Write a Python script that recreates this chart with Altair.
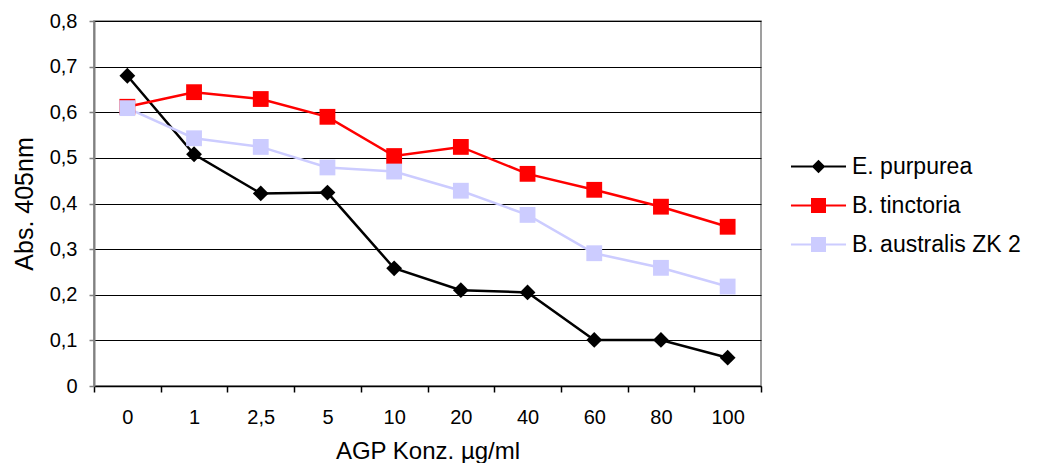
import altair as alt
import pandas as pd

concentrations = ["0", "1", "2,5", "5", "10", "20", "40", "60", "80", "100"]
series_names = ["E. purpurea", "B. tinctoria", "B. australis ZK 2"]
e_purpurea = [0.680, 0.508, 0.422, 0.424, 0.258, 0.210, 0.205, 0.101, 0.101, 0.062]
b_tinctoria = [0.612, 0.644, 0.629, 0.590, 0.504, 0.524, 0.465, 0.430, 0.393, 0.349]
b_australis = [0.609, 0.543, 0.524, 0.479, 0.470, 0.428, 0.375, 0.291, 0.259, 0.218]
y_ticks = [0, 0.1, 0.2, 0.3, 0.4, 0.5, 0.6, 0.7, 0.8]
colors = ["#000000", "#FF0000", "#CCCCFF"]

rows = []
for name, vals in zip(series_names, [e_purpurea, b_tinctoria, b_australis]):
    for c, v in zip(concentrations, vals):
        rows.append({"conc": c, "series": name, "value": v})
df = pd.DataFrame(rows)

FONT = "Liberation Sans"

x_enc = alt.X(
    "conc:N",
    sort=concentrations,
    scale=alt.Scale(type="band", paddingInner=0, paddingOuter=0),
    axis=alt.Axis(
        title="AGP Konz. µg/ml",
        labelAngle=0,
        tickBand="extent",
        grid=False,
        domainColor="#000000",
        domainWidth=1.5,
        tickColor="#000000",
        tickWidth=1.5,
        tickSize=6,
        labelFontSize=20,
        labelPadding=15,
        titleFontSize=24,
        titleFontWeight="normal",
        titlePadding=12,
        labelColor="#000000",
        titleColor="#000000",
    ),
)
y_enc = alt.Y(
    "value:Q",
    scale=alt.Scale(domain=[0, 0.8], nice=False, zero=True),
    axis=alt.Axis(
        title="Abs. 405nm",
        values=y_ticks,
        labelExpr="datum.value == 0 ? '0' : replace(format(datum.value, '.1f'), '.', ',')",
        grid=True,
        gridColor="#000000",
        gridWidth=1,
        domainColor="#808080",
        domainWidth=2,
        tickColor="#808080",
        tickWidth=1.5,
        tickSize=5,
        labelFontSize=20,
        labelPadding=12,
        titleFontSize=25,
        titleFontWeight="normal",
        titlePadding=12,
        labelColor="#000000",
        titleColor="#000000",
    ),
)
color_nolegend = alt.Color("series:N", scale=alt.Scale(domain=series_names, range=colors), legend=None)

base = alt.Chart(df)

lines = base.mark_line(strokeWidth=2.5).encode(
    x=x_enc, y=y_enc, color=color_nolegend, detail="series:N"
)

diamonds = base.transform_filter(alt.datum.series == series_names[0]).mark_point(
    shape="diamond", filled=True, size=250, opacity=1
).encode(x=x_enc, y=y_enc, color=color_nolegend)

squares = base.transform_filter(alt.datum.series != series_names[0]).mark_point(
    shape="square", filled=True, size=250, opacity=1
).encode(x=x_enc, y=y_enc, color=color_nolegend)

legend_paths = [
    "M-3.67,-0.14H3.67V0.14H-3.67Z M0,-0.9L0.9,0L0,0.9L-0.9,0Z",
    "M-3.67,-0.14H3.67V0.14H-3.67Z M-1,-1H1V1H-1Z",
    "M-3.67,-0.14H3.67V0.14H-3.67Z M-1,-1H1V1H-1Z",
]
legend_props = dict(
    title=None,
    orient="none",
    legendX=713,
    legendY=134,
    labelFont=FONT,
    labelFontSize=23,
    labelColor="#000000",
    labelLimit=300,
    labelOffset=22,
    rowPadding=15,
    padding=0,
    symbolSize=225,
    symbolStrokeWidth=0,
    symbolOpacity=1,
)
legend_layer = base.transform_filter("datum.value < 0").mark_point(
    filled=True, size=225, opacity=1
).encode(
    x=x_enc,
    y=y_enc,
    color=alt.Color("series:N", scale=alt.Scale(domain=series_names, range=colors),
                    legend=alt.Legend(**legend_props)),
    shape=alt.Shape("series:N", scale=alt.Scale(domain=series_names, range=legend_paths),
                    legend=alt.Legend(**legend_props)),
)

chart = alt.layer(legend_layer, lines, diamonds, squares).properties(
    width=667,
    height=365,
    autosize=alt.AutoSizeParams(type="none"),
    padding={"left": 86, "top": 13, "right": 271, "bottom": 77},
).configure(
    font=FONT,
    background="#FFFFFF",
).configure_view(
    stroke="#808080",
    strokeWidth=1.5,
)

chart.save("out.html", embed_options={"renderer": "svg", "actions": False})
